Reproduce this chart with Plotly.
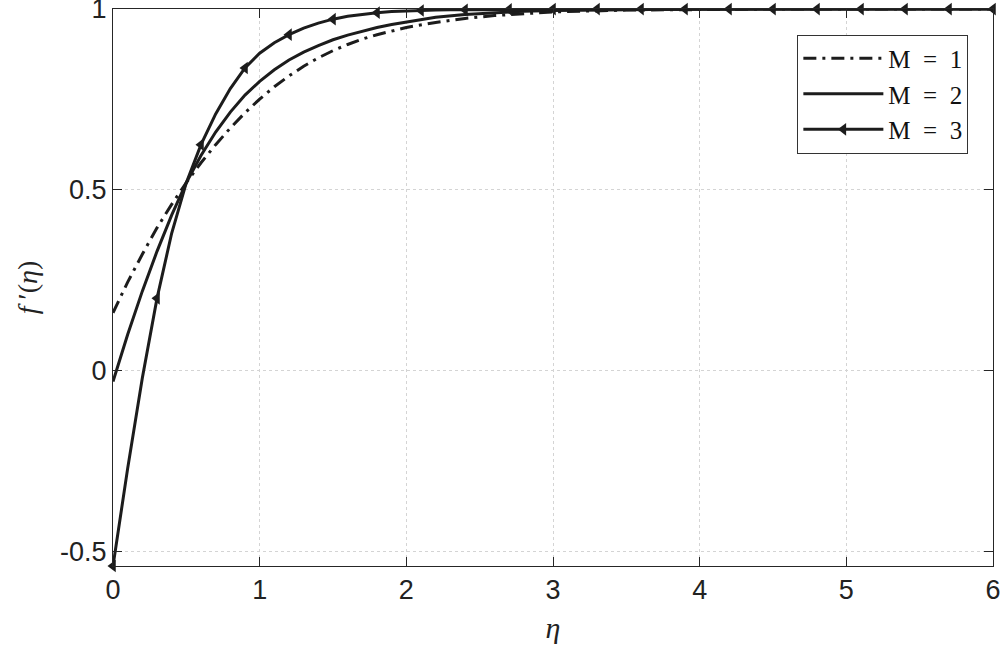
import plotly.graph_objects as go

# eta grid for M = 1 and M = 2
eta_a = [0.0, 0.1, 0.2, 0.3, 0.4, 0.5, 0.6, 0.7, 0.8, 0.9, 1.0,
         1.1, 1.2, 1.3, 1.4, 1.5, 1.6, 1.7, 1.8, 1.9, 2.0,
         2.2, 2.4, 2.6, 2.8, 3.0, 3.5, 4.0, 4.5, 5.0, 5.5, 6.0]

m1 = [0.160, 0.245, 0.322, 0.395, 0.460, 0.520, 0.575, 0.625, 0.671, 0.713, 0.751,
      0.785, 0.815, 0.842, 0.865, 0.885, 0.902, 0.917, 0.929, 0.940, 0.949,
      0.963, 0.974, 0.982, 0.988, 0.992, 0.997, 0.999, 1.0, 1.0, 1.0, 1.0]

m2 = [-0.030, 0.100, 0.220, 0.330, 0.430, 0.520, 0.595, 0.660, 0.715, 0.762, 0.800,
      0.832, 0.859, 0.881, 0.899, 0.915, 0.928, 0.939, 0.949, 0.957, 0.964,
      0.977, 0.985, 0.990, 0.994, 0.996, 0.999, 1.0, 1.0, 1.0, 1.0, 1.0]

# eta grid for M = 3 (markers on every third point)
eta_b = [0.0, 0.1, 0.2, 0.3, 0.4, 0.5, 0.6, 0.7, 0.8, 0.9,
         1.0, 1.1, 1.2, 1.3, 1.4, 1.5, 1.6, 1.7, 1.8, 1.9,
         2.0, 2.1, 2.2, 2.3, 2.4, 2.5, 2.6, 2.7, 2.8, 2.9,
         3.0, 3.1, 3.2, 3.3, 3.4, 3.5, 3.6, 3.7, 3.8, 3.9,
         4.0, 4.1, 4.2, 4.3, 4.4, 4.5, 4.6, 4.7, 4.8, 4.9,
         5.0, 5.1, 5.2, 5.3, 5.4, 5.5, 5.6, 5.7, 5.8, 5.9, 6.0]

m3 = [-0.540, -0.270, -0.020, 0.200, 0.380, 0.520, 0.625, 0.710, 0.780, 0.837,
      0.878, 0.907, 0.929, 0.947, 0.961, 0.972, 0.980, 0.986, 0.990, 0.993,
      0.995, 0.996, 0.997, 0.998, 0.998, 0.999, 0.999, 0.999, 1.0, 1.0,
      1.0, 1.0, 1.0, 1.0, 1.0, 1.0, 1.0, 1.0, 1.0, 1.0,
      1.0, 1.0, 1.0, 1.0, 1.0, 1.0, 1.0, 1.0, 1.0, 1.0,
      1.0, 1.0, 1.0, 1.0, 1.0, 1.0, 1.0, 1.0, 1.0, 1.0, 1.0]

labels = ['M\u2002=\u20021', 'M\u2002=\u20022', 'M\u2002=\u20023']

INK = '#1c1c1c'
SERIF = 'Liberation Serif, DejaVu Serif, serif'
SANS = 'Liberation Sans, Arial, sans-serif'

fig = go.Figure()

fig.add_trace(go.Scatter(
    x=eta_a, y=m1, mode='lines', name=labels[0],
    line=dict(color=INK, width=3, dash='13px,6px,3px,6px')
))
fig.add_trace(go.Scatter(
    x=eta_a, y=m2, mode='lines', name=labels[1],
    line=dict(color=INK, width=3)
))
fig.add_trace(go.Scatter(
    x=eta_b, y=m3, mode='lines', name=labels[2], showlegend=False,
    line=dict(color=INK, width=3)
))
fig.add_trace(go.Scatter(
    x=eta_b[::3], y=m3[::3], mode='markers', showlegend=False,
    marker=dict(symbol='triangle-left', size=11, color=INK),
    cliponaxis=False
))
# legend entry for M = 3 (line with marker)
fig.add_trace(go.Scatter(
    x=[None], y=[None], mode='lines+markers', name=labels[2],
    line=dict(color=INK, width=3),
    marker=dict(symbol='triangle-left', size=11, color=INK)
))

axis_common = dict(
    showline=True, linecolor='#262626', linewidth=1, mirror='ticks',
    ticks='inside', ticklen=9, tickcolor='#262626',
    showgrid=True, gridcolor='#d4d4d4', griddash='dot', gridwidth=1,
    zeroline=False, automargin=False, ticklabeloverflow='allow',
    tickfont=dict(family=SANS, size=27, color='#222222'),
)

fig.update_xaxes(
    range=[0, 6], tickvals=[0, 1, 2, 3, 4, 5, 6],
    title=dict(text='<i>η</i>', font=dict(family=SERIF, size=30, color='#222222'), standoff=12),
    **axis_common
)
fig.update_yaxes(
    range=[-0.54, 1.0001], tickvals=[-0.5, 0, 0.5, 1],
    ticktext=['-0.5', '0', '0.5', '1'],
    title=dict(text='<i>f</i> ′(<i>η</i>)', font=dict(family=SERIF, size=28, color='#222222'), standoff=14),
    **axis_common
)

fig.update_layout(
    width=1000, height=657,
    margin=dict(l=113, r=7, t=9, b=91),
    plot_bgcolor='white', paper_bgcolor='white',
    legend=dict(
        x=0.972, y=0.954, xanchor='right', yanchor='top',
        bgcolor='white', bordercolor='#333333', borderwidth=1,
        font=dict(family=SERIF, size=25, color='#111111'),
        itemwidth=80, tracegroupgap=0
    ),
)

# drop the default page margin so the figure sits at the window corner
fig.write_html("out.html", config={'displayModeBar': False},
               post_script="document.body.style.margin='0';")
